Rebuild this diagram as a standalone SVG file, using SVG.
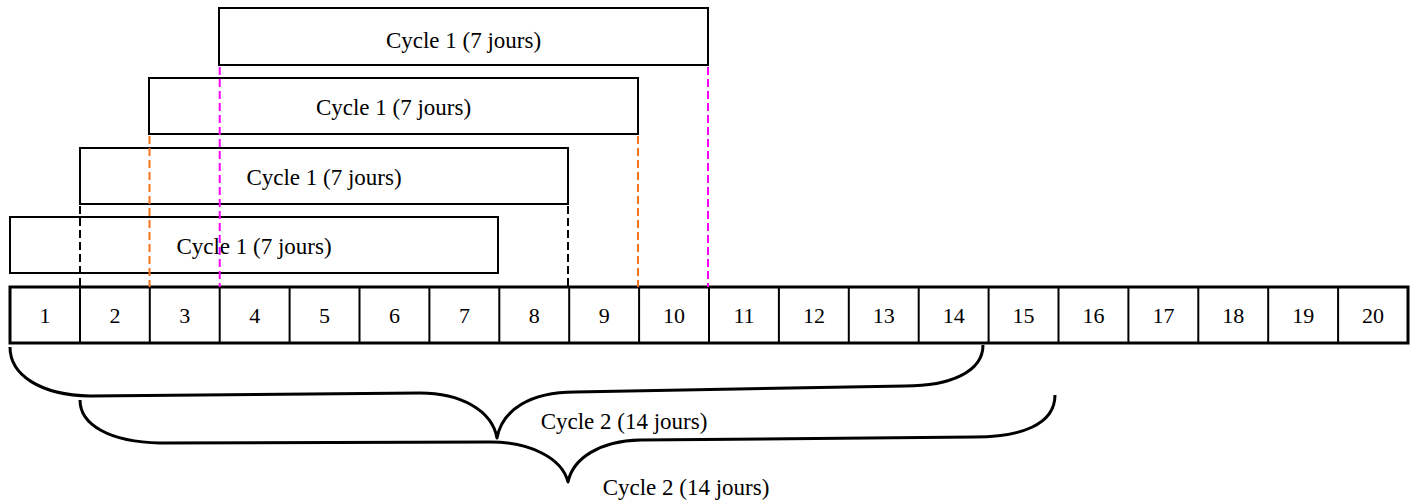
<svg xmlns="http://www.w3.org/2000/svg" width="1414" height="501" viewBox="0 0 1414 501">
<style>
text{font-family:"Liberation Serif","Times New Roman",serif;fill:#000;text-anchor:middle}
.lbl{font-size:23px}
.num{font-size:22px}
.box{fill:none;stroke:#000;stroke-width:2}
.cell{fill:none;stroke:#000;stroke-width:2}
.outer{fill:none;stroke:#000;stroke-width:3}
.dash{fill:none;stroke-width:2;stroke-dasharray:8 4}
.mag{stroke:#FF00FF}
.org{stroke:#F5731C}
.blk{stroke:#000}
.brace{fill:none;stroke:#000;stroke-width:3;stroke-linejoin:round}
</style>
<rect width="1414" height="501" fill="#fff"/>
<g id="cycle1-d4"><rect class="box" x="219" y="8" width="489" height="57"/><text class="lbl" x="463.5" y="48">Cycle 1 (7 jours)</text></g>
<g id="cycle1-d3"><rect class="box" x="149" y="78" width="489" height="56"/><text class="lbl" x="393.5" y="115">Cycle 1 (7 jours)</text></g>
<g id="cycle1-d2"><rect class="box" x="80" y="148" width="488" height="56"/><text class="lbl" x="324" y="185">Cycle 1 (7 jours)</text></g>
<g id="cycle1-d1"><rect class="box" x="10" y="217" width="488" height="56"/><text class="lbl" x="254" y="254">Cycle 1 (7 jours)</text></g>
<g id="timeline">
<rect class="outer" x="10" y="287" width="1398" height="56"/>
<path class="cell" d="M80 287V343M149.8 287V343M219.7 287V343M289.6 287V343M359.5 287V343M429.4 287V343M499.3 287V343M569.2 287V343M639.1 287V343M709 287V343M778.9 287V343M848.8 287V343M918.7 287V343M988.6 287V343M1058.5 287V343M1128.4 287V343M1198.3 287V343M1268.2 287V343M1338.1 287V343"/>
<text class="num" x="45" y="323">1</text>
<text class="num" x="114.9" y="323">2</text>
<text class="num" x="184.8" y="323">3</text>
<text class="num" x="254.7" y="323">4</text>
<text class="num" x="324.6" y="323">5</text>
<text class="num" x="394.5" y="323">6</text>
<text class="num" x="464.4" y="323">7</text>
<text class="num" x="534.3" y="323">8</text>
<text class="num" x="604.2" y="323">9</text>
<text class="num" x="674.1" y="323">10</text>
<text class="num" x="744" y="323">11</text>
<text class="num" x="813.9" y="323">12</text>
<text class="num" x="883.8" y="323">13</text>
<text class="num" x="953.7" y="323">14</text>
<text class="num" x="1023.6" y="323">15</text>
<text class="num" x="1093.5" y="323">16</text>
<text class="num" x="1163.4" y="323">17</text>
<text class="num" x="1233.3" y="323">18</text>
<text class="num" x="1303.2" y="323">19</text>
<text class="num" x="1373.1" y="323">20</text>
</g>
<g id="connectors">
<path class="dash mag" d="M219.7 67V287M708 67V287"/>
<path class="dash org" d="M149.5 136V287M638 136V287"/>
<path class="dash blk" d="M80 206V287M568 206V287"/>
</g>
<g id="cycle2-a">
<path class="brace" d="M10 347C10 375 40 395 90 396L420 393C460 393 492 410 497 438C502 410 530 392 575 392L905 386C950 386 983 372 983 345"/>
<text class="lbl" x="624" y="429">Cycle 2 (14 jours)</text>
</g>
<g id="cycle2-b">
<path class="brace" d="M80 400C80 425 110 442 160 443L490 442C530 442 562 458 568 482C573 458 600 441 640 440L975 437C1020 437 1055 425 1055 395"/>
<text class="lbl" x="686" y="495">Cycle 2 (14 jours)</text>
</g>
</svg>
